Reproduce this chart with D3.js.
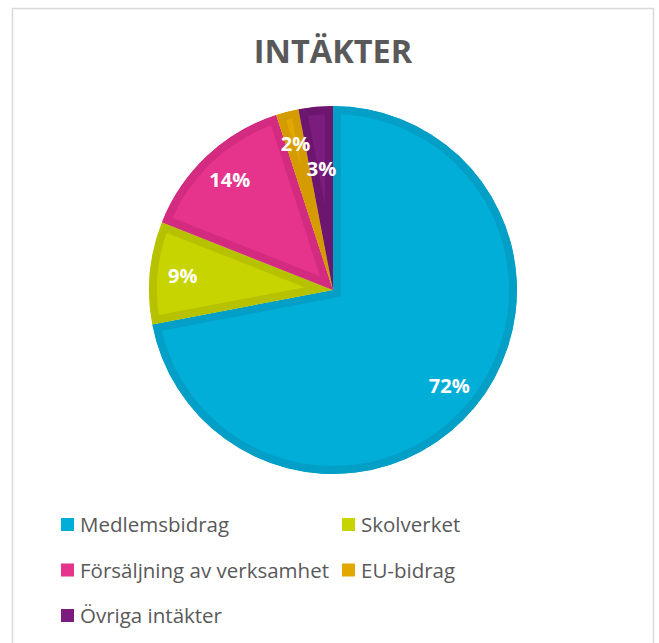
<!DOCTYPE html>
<html lang="sv">
<head>
<meta charset="utf-8">
<script src="https://d3js.org/d3.v7.min.js"></script>
<style>
  body { margin: 0; background: #fff; }
  text { font-family: "Open Sans", sans-serif; }
</style>
</head>
<body>
<div id="graph"></div>
<script>
// data
var categories = ["Medlemsbidrag", "Skolverket", "Försäljning av verksamhet", "EU-bidrag", "Övriga intäkter"];
var values = [72, 9, 14, 2, 3];
var title = "INTÄKTER";

// colours: slice fill and the darker inner rim
var fills = ["#00aed7", "#c8d400", "#e6338b", "#e3a800", "#7c1c7e"];
var rims  = ["#049fc6", "#b6c200", "#d22b80", "#d49c00", "#6c1670"];

var width = 659, height = 643;
var cx = 333, cy = 290, radius = 184;

var svg = d3.select("#graph")
  .append("svg")
    .attr("width", width)
    .attr("height", height);

// chart frame
svg.append("rect")
    .attr("x", 12.5)
    .attr("y", 8.5)
    .attr("width", 641)
    .attr("height", 660)
    .attr("fill", "none")
    .attr("stroke", "#d9d9d9")
    .attr("stroke-width", 1.5);

// title
svg.append("text")
    .attr("x", cx)
    .attr("y", 63)
    .attr("text-anchor", "middle")
    .attr("font-size", 32.5)
    .attr("font-weight", 700)
    .attr("fill", "#595959")
    .text(title);

var color = d3.scaleOrdinal().domain(categories).range(fills);
var rim = d3.scaleOrdinal().domain(categories).range(rims);

var pie = d3.pie()
    .sort(null)
    .value(function (d, i) { return values[i]; });

var arcs = pie(categories);

var arc = d3.arc().innerRadius(0).outerRadius(radius);

var g = svg.append("g")
    .attr("transform", "translate(" + cx + "," + cy + ")");

var defs = svg.append("defs");
defs.selectAll("clipPath")
  .data(arcs)
  .enter()
  .append("clipPath")
    .attr("id", function (d, i) { return "clip" + i; })
  .append("path")
    .attr("d", arc);

// slices, with a darker rim drawn on the inside of each
g.selectAll("path.slice")
  .data(arcs)
  .enter()
  .append("path")
    .attr("class", "slice")
    .attr("d", arc)
    .attr("fill", function (d) { return color(d.data); })
    .attr("stroke", function (d) { return rim(d.data); })
    .attr("stroke-width", 16)
    .attr("stroke-linejoin", "miter")
    .attr("clip-path", function (d, i) { return "url(#clip" + i + ")"; });

// percent labels, the tiny last slice is pulled inward so it clears its neighbour
var total = d3.sum(values);
g.selectAll("text.pct")
  .data(arcs)
  .enter()
  .append("text")
    .attr("class", "pct")
    .attr("transform", function (d, i) {
      var r = radius * (i === arcs.length - 1 ? 0.66 : 0.82);
      var c = d3.arc().innerRadius(r).outerRadius(r).centroid(d);
      return "translate(" + c[0] + "," + c[1] + ")";
    })
    .attr("dy", "0.36em")
    .attr("text-anchor", "middle")
    .attr("font-size", 20)
    .attr("font-weight", 700)
    .attr("fill", "#ffffff")
    .text(function (d) { return Math.round(d.value / total * 100) + "%"; });

// legend, two columns
var colX = [61, 342];
var rowY = [532, 577.5, 623];

var legend = svg.append("g")
  .selectAll("g")
  .data(categories)
  .enter()
  .append("g")
    .attr("transform", function (d, i) {
      return "translate(" + colX[i % 2] + "," + rowY[Math.floor(i / 2)] + ")";
    });

legend.append("rect")
    .attr("x", 0)
    .attr("y", -14)
    .attr("width", 13)
    .attr("height", 13)
    .attr("fill", function (d) { return color(d); });

legend.append("text")
    .attr("x", 19)
    .attr("y", 0)
    .attr("font-size", 20.5)
    .attr("fill", "#595959")
    .text(function (d) { return d; });
</script>
</body>
</html>
